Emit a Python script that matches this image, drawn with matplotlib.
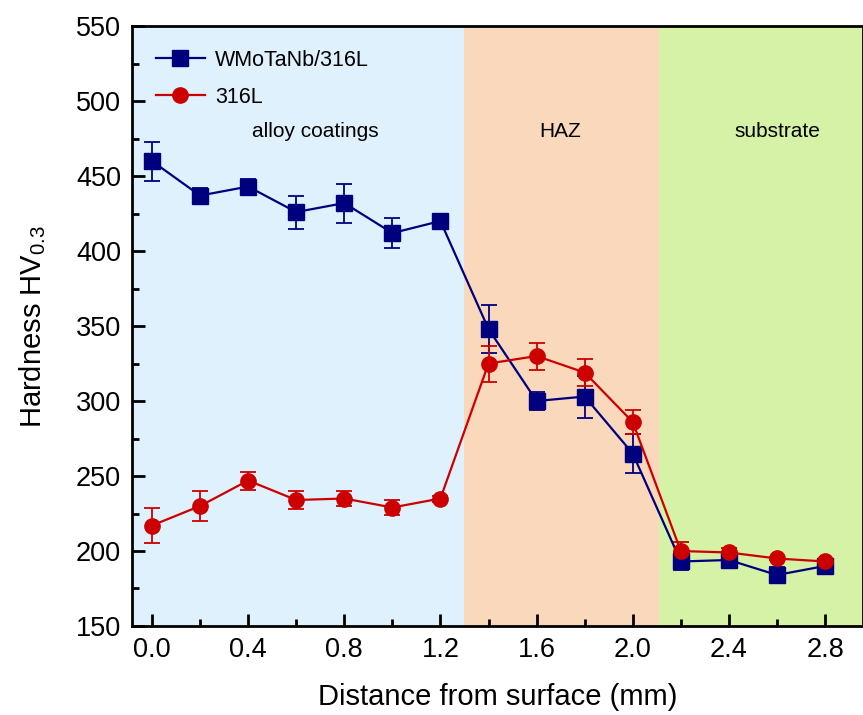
import numpy as np
import matplotlib
matplotlib.use('Agg')
import matplotlib.pyplot as plt
from matplotlib.ticker import MultipleLocator
from matplotlib.lines import Line2D

plt.rcParams['font.family'] = ['Liberation Sans', 'DejaVu Sans']
plt.rcParams['mathtext.fontset'] = 'custom'
plt.rcParams['mathtext.rm'] = 'Liberation Sans'

# data
distance = [0.0, 0.2, 0.4, 0.6, 0.8, 1.0, 1.2, 1.4, 1.6, 1.8, 2.0, 2.2, 2.4, 2.6, 2.8]
hv_coat = [460, 437, 443, 426, 432, 412, 420, 348, 300, 303, 265, 193, 194, 184, 190]
err_coat = [13, 5, 5, 11, 13, 10, 2, 16, 6, 14, 13, 6, 5, 5, 2]
hv_316 = [217, 230, 247, 234, 235, 229, 235, 325, 330, 319, 286, 200, 199, 195, 193]
err_316 = [12, 10, 6, 6, 5, 5, 2, 12, 9, 9, 8, 6, 3, 1, 1]

zones = ['alloy coatings', 'HAZ', 'substrate']
zone_edges = [-0.1, 1.3, 2.11, 3.0]
zone_colors = ['#dff1fc', '#f9d8bc', '#d6f2a6']
zone_label_x = [0.68, 1.7, 2.6]

blue = '#00007f'
red = '#cc0000'

fig = plt.figure(figsize=(8.63, 7.15), dpi=100)
ax = fig.add_axes([0.153, 0.1245, 0.847, 0.839])

for i, name in enumerate(zones):
    ax.axvspan(zone_edges[i], zone_edges[i + 1], color=zone_colors[i], lw=0, zorder=0)
    ax.text(zone_label_x[i], 480, name, ha='center', va='center', fontsize=15)

ax.errorbar(distance, hv_coat, yerr=err_coat, color=blue, marker='s', ms=11,
            lw=1.6, capsize=6, elinewidth=1.3, capthick=1.3, zorder=3)
ax.errorbar(distance, hv_316, yerr=err_316, color=red, marker='o', ms=11,
            lw=1.6, capsize=6, elinewidth=1.3, capthick=1.3, zorder=3)

ax.set_xlim(-0.083, 2.958)
ax.set_ylim(150, 550)
ax.xaxis.set_major_locator(MultipleLocator(0.4))
ax.xaxis.set_minor_locator(MultipleLocator(0.2))
ax.yaxis.set_major_locator(MultipleLocator(50))
ax.yaxis.set_minor_locator(MultipleLocator(25))
ax.xaxis.set_major_formatter(plt.FormatStrFormatter('%.1f'))
ax.tick_params(which='major', direction='in', length=9, width=2, labelsize=19.5, pad=8)
ax.tick_params(which='minor', direction='in', length=5, width=2)
for s in ax.spines.values():
    s.set_linewidth(2)

ax.set_xlabel('Distance from surface (mm)', fontsize=21, labelpad=14)
ax.set_ylabel('Hardness HV$_{0.3}$', fontsize=21, labelpad=20)

handles = [Line2D([], [], color=blue, marker='s', ms=11, lw=1.6),
           Line2D([], [], color=red, marker='o', ms=11, lw=1.6)]
ax.legend(handles, ['WMoTaNb/316L', '316L'], loc='upper left', frameon=False,
          fontsize=15.5, handlelength=2.3, borderaxespad=0.7, labelspacing=0.75,
          handletextpad=0.45)

fig.savefig('out.png', dpi=100)
